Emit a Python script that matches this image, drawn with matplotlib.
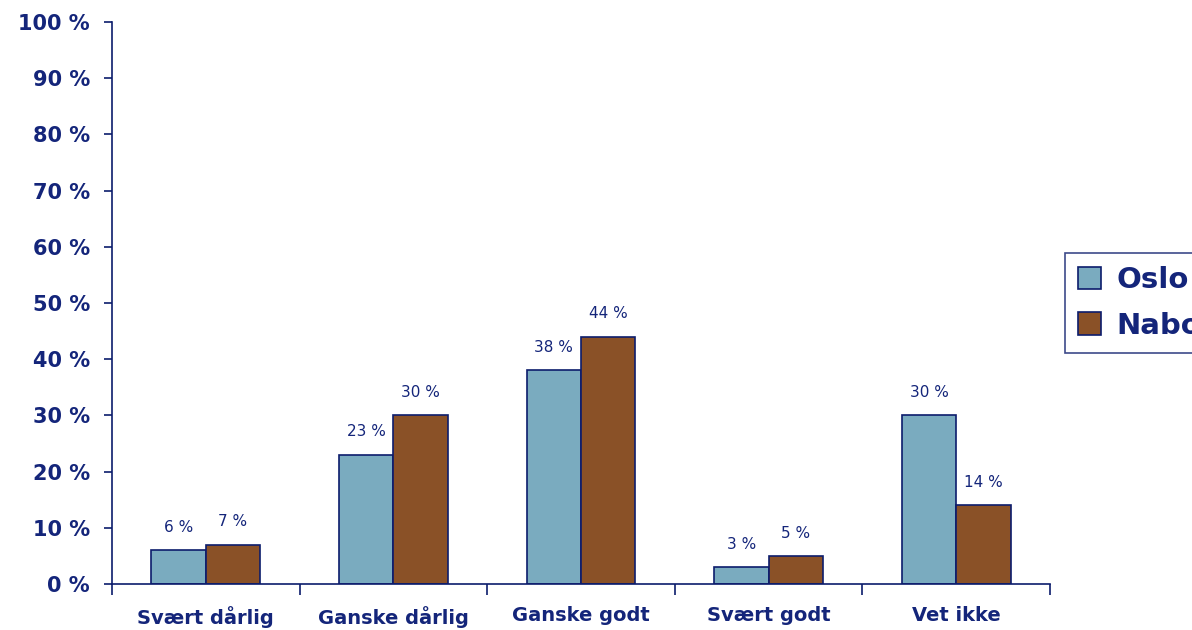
import matplotlib.pyplot as plt
import numpy as np

categories = ['Svært dårlig', 'Ganske dårlig', 'Ganske godt', 'Svært godt', 'Vet ikke']
oslo = [6, 23, 38, 3, 30]
nabo = [7, 30, 44, 5, 14]
series_names = ['Oslo', 'Nabo']
yticks = list(range(0, 101, 10))

navy = '#14257a'
edge = '#0c1c6c'
c_oslo = '#7aabbf'
c_nabo = '#8a5127'

fig = plt.figure(figsize=(11.92, 6.3), dpi=100)
ax = fig.add_axes([112 / 1192, 1 - 584 / 630, (1050 - 112) / 1192, (584 - 22) / 630])

x = np.arange(len(categories))
w = 0.29
b1 = ax.bar(x - w / 2, oslo, w, color=c_oslo, edgecolor=edge, linewidth=1.2, label=series_names[0])
b2 = ax.bar(x + w / 2, nabo, w, color=c_nabo, edgecolor=edge, linewidth=1.2, label=series_names[1])

for bars in (b1, b2):
    ax.bar_label(bars, labels=[f'{v:g} %' for v in bars.datavalues], padding=11,
                 fontsize=11, color=navy)

ax.set_xlim(-0.5, len(categories) - 0.5)
ax.set_ylim(0, 100)
ax.set_yticks(yticks)
ax.set_yticklabels([f'{v} %' for v in yticks], fontsize=15, fontweight='bold', color=navy)
ax.tick_params(axis='y', length=6, width=1.2, color=edge, pad=10)

ax.set_xticks(x)
ax.set_xticklabels(categories, fontsize=14, fontweight='bold', color=navy)
ax.set_xticks(np.arange(-0.5, len(categories)), minor=True)
ax.tick_params(axis='x', which='major', length=0, pad=16)
ax.tick_params(axis='x', which='minor', length=8, width=1.2, color=edge)

for s in ['top', 'right']:
    ax.spines[s].set_visible(False)
for s in ['left', 'bottom']:
    ax.spines[s].set_color(edge)
    ax.spines[s].set_linewidth(1.2)

leg = fig.legend(loc='upper left', bbox_to_anchor=(1065 / 1192, 1 - 253 / 630),
                 borderaxespad=0, fontsize=21, frameon=True, fancybox=False,
                 handlelength=0.8, handleheight=0.8, handletextpad=0.5,
                 labelspacing=0.6, borderpad=0.45)
leg.get_frame().set_edgecolor(edge)
leg.get_frame().set_linewidth(1.2)
for t in leg.get_texts():
    t.set_color(navy)
    t.set_fontweight('bold')

fig.savefig('out.png', dpi=100)
